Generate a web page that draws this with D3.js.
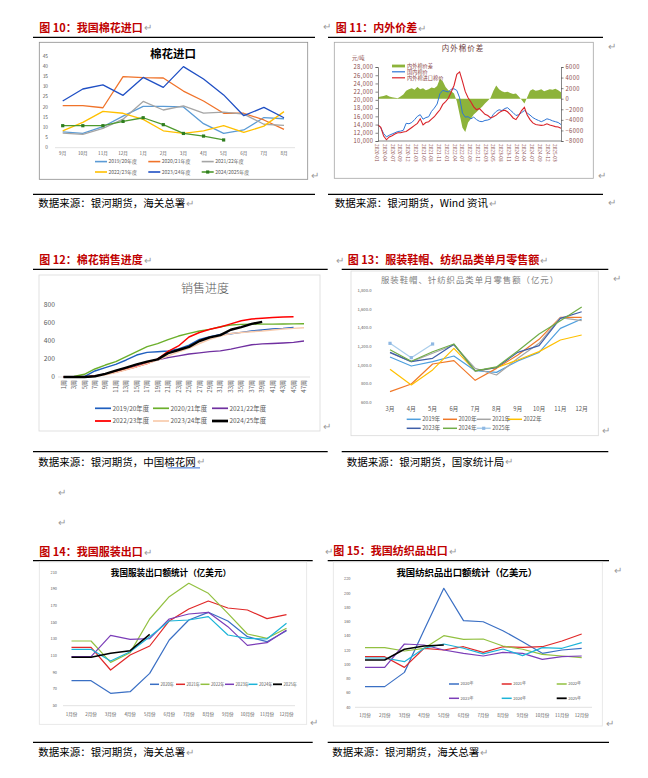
<!DOCTYPE html>
<html><head><meta charset="utf-8">
<script src="https://cdn.jsdelivr.net/npm/d3@7"></script>
<style>body{margin:0;background:#fff}svg{display:block}text{font-family:"Noto Sans CJK SC","Noto Sans",sans-serif}</style>
</head><body><svg id="c" width="648" height="778"></svg>
<script>
// ---------- DATA ----------
// Fig 10 cotton imports (万吨)
const months10 = ["9月","10月","11月","12月","1月","2月","3月","4月","5月","6月","7月","8月"];
const imp1920 = [7.8,7,10.3,15.5,20.3,20.3,20,11.8,7,8.7,14.8,14.2];
const imp2021 = [20.6,20.6,19.6,34.9,34.4,34.2,27.8,22.9,16.9,16.9,13.6,9];
const imp2122 = [7.2,6.5,9.5,14,22.7,18.5,20.5,17,17.5,16.5,11.5,11];
const imp2223 = [8.3,12.4,17.8,16.9,13.9,8.3,7,8.3,10.8,7.5,10.6,17.7];
const imp2324 = [22.9,28.8,30.8,25.7,34.5,29.6,39.8,33.7,25.9,15.7,19.8,14.7];
const imp2425 = [10.8,10.8,10.8,12.9,14.7,11.3,7,5.7,3.8,null,null,null];
const names10 = ["2019/20年度","2020/21年度","2021/22年度","2022/23年度","2023/24年度","2024/2025年度"];
const ticks10 = [0,5,10,15,20,25,30,35,40,45];

// Fig 11 domestic vs imported cotton price (monthly samples)
const dates11 = ["2020-01","2020-04","2020-07","2020-09","2020-12","2021-03","2021-05","2021-08","2021-11","2022-01","2022-04","2022-07","2022-09","2022-12","2023-03","2023-05","2023-08","2023-11","2024-01","2024-04","2024-07","2024-09","2024-12","2025-03"];
const domestic11 = [13900,13200,11800,11000,11400,11700,12000,12300,12400,12600,14300,14200,14500,15200,16000,16400,15300,15700,15900,17200,18000,19000,21500,22300,22100,21900,22600,22700,22300,20500,16800,15800,15900,15400,15800,15200,14800,14700,15000,15100,15400,16500,17200,17600,17400,17900,18100,17500,16900,16200,16400,16900,17400,16800,16300,15700,15300,15000,14700,15000,15400,15200,14900,14700,14500,14000];
const imported11 = [13900,13300,11200,10300,11000,11300,11700,12000,12000,12200,12300,12800,13300,13800,14300,15400,13900,14500,14700,15300,15900,16800,17600,18900,19600,20400,21900,23500,26200,26800,24500,22000,20500,19500,18300,17600,17900,17200,16500,16200,15600,15900,16300,16900,17300,17500,17100,16400,15600,15200,16200,17400,18200,16300,15200,14400,14000,13900,13800,13900,14200,13900,13700,13500,13400,13100];
const spread11 = [300,400,500,700,400,300,200,100,400,800,1500,1800,2000,1700,2200,1800,2000,1600,1800,2100,2000,2400,3800,3300,2200,1600,1400,1000,-500,-3000,-5500,-6300,-4500,-3800,-3000,-2500,-2000,-1500,-900,-400,200,1500,2500,1800,1400,1200,1300,1100,900,1000,400,-200,-900,300,1500,1800,1500,1600,1800,1400,1600,1800,1700,1900,1600,1200];
const leftTicks11 = [10000,12000,14000,16000,18000,20000,22000,24000,26000,28000];
const rightTicks11 = [-8000,-6000,-4000,-2000,0,2000,4000,6000];
const names11 = ["内外棉价差","国内棉价","内外棉进口棉价"];

// Fig 12 sales progress
const weeks12 = ["1周","3周","5周","7周","9周","11周","13周","15周","17周","19周","21周","23周","25周","27周","29周","31周","33周","35周","37周","39周","41周","43周","45周","47周"];
const sale1920 = [0,0,5,67,104,141,189,244,274,281,289,311,355,418,448,474,481,496,511,522,533,540,551,null];
const sale2021 = [0,5,30,89,133,170,226,281,337,370,415,455,485,511,529,559,577,585,588,588,588,589,590,592];
const sale2122 = [0,0,0,10,35,55,85,120,155,190,215,235,255,268,282,290,310,335,358,368,372,378,385,400];
const sale2223 = [0,0,0,10,30,55,85,115,150,200,285,345,445,495,530,555,590,625,645,652,660,668,670,null];
const sale2324 = [0,0,0,5,25,50,80,112,148,188,235,280,318,372,418,455,483,495,503,511,522,533,540,548];
const sale2425 = [0,0,0,8,35,70,105,140,170,196,265,300,335,400,440,465,525,555,590,612,null,null,null,null];
const names12 = ["2019/20年度","2020/21年度","2021/22年度","2022/23年度","2023/24年度","2024/25年度"];
const ticks12 = [0,200,400,600,800];

// Fig 13 retail sales (亿元)
const months13 = ["3月","4月","5月","6月","7月","8月","9月","10月","11月","12月"];
const ret2019 = [1087,990,1037,1098,940,922,1045,1137,1395,1496];
const ret2020 = [715,797,1012,1048,836,965,1109,1277,1513,1513];
const ret2021 = [1134,1037,1127,1216,965,894,1073,1234,1510,1478];
const ret2022 = [955,786,948,1180,937,973,1055,1145,1270,1324];
const ret2023 = [1137,1037,1073,1223,937,973,1137,1209,1503,1574];
const ret2024 = [1166,1041,1144,1227,937,980,1152,1334,1478,1624];
const ret2025 = [1234,1080,1227,null,null,null,null,null,null,null];
const names13 = ["2019年","2020年","2021年","2022年","2023年","2024年","2025年"];
const ticks13 = [600,800,1000,1200,1400,1600,1800];

// Fig 14 apparel exports (亿美元)
const months14 = ["1月份","2月份","3月份","4月份","5月份","6月份","7月份","8月份","9月份","10月份","11月份","12月份"];
const app2020 = [80,80,64.8,66.8,88.8,128.8,152.8,162,151.6,132.8,126.8,140];
const app2021 = [120,120,92.8,110.8,121.6,151.6,166,175.6,167.2,164.8,154.4,159.2];
const app2022 = [127.6,127.6,102,113.6,154,180.8,196.8,184.8,160.8,136,130.8,142.8];
const app2023 = [108.8,108.8,134.4,129.6,130.4,154,160,162,144.8,122.4,125.6,140.8];
const app2024 = [117.6,117.6,103.6,114.8,132.8,151.6,152.8,156.8,134.8,130.8,130,148.8];
const app2025 = [108,108,112.8,116,135.6,null,null,null,null,null,null,null];
const names14 = ["2020年","2021年","2022年","2023年","2024年","2025年"];
const ticks14 = [50,70,90,110,130,150,170,190,210];

// Fig 15 textile exports (亿美元)
const tex2020 = [69,69,89,148.5,207,161.6,160,147.5,132,115.7,120.4,122.8];
const tex2021 = [111,111,96,122.8,120.4,125,117,125,124,125,133,142.8];
const tex2022 = [123.7,123.7,119,122.8,140.5,135.4,135.8,126,121.4,114.3,112,109.7];
const tex2023 = [96,96,128.8,127.4,120.4,115.7,112,117,115.7,107.3,111,112];
const tex2024 = [109.2,109.2,104,122.8,128.8,122.8,115,121.8,112.5,123.7,122.8,130.7];
const tex2025 = [106.4,106.4,121.4,126,127.4,null,null,null,null,null,null,null];
const ticks15 = [40,60,80,100,120,140,160,180,200,220];

// ---------- DRAW ----------
const svg = d3.select("#c");
svg.append("rect").attr("width",648).attr("height",778).attr("fill","#fff");

function txt(x,y,s,o={}){
  const t=svg.append("text").attr("x",x).attr("y",y).text(s)
    .attr("font-size",o.size||10).attr("fill",o.color||"#000")
    .attr("text-anchor",o.anchor||"start");
  if(o.weight) t.attr("font-weight",o.weight);
  if(o.family) t.attr("font-family",o.family);
  if(o.ls) t.attr("letter-spacing",o.ls);
  return t;
}
function ret(x,y){ txt(x,y+3.5,"↵",{size:10,color:"#9a9a9a",family:"DejaVu Sans"}); }
function withRet(t){ const n=t.node(); const w=n.getComputedTextLength(); ret(+t.attr("x")+w+1, +t.attr("y")-3.8); }
function hline(x1,x2,y,c="#000",w=1){ svg.append("line").attr("x1",x1).attr("x2",x2).attr("y1",y).attr("y2",y).attr("stroke",c).attr("stroke-width",w); }
function box(x1,y1,x2,y2,c){ svg.append("rect").attr("x",x1).attr("y",y1).attr("width",x2-x1).attr("height",y2-y1).attr("fill","#fff").attr("stroke",c).attr("stroke-width",0.8); }

function panel(p){
  withRet(txt(p.tx,p.ty,p.title,{size:11,weight:"bold",color:"#C00000"}));
  hline(p.x1,p.x2,p.l1,"#000",1.2);
  hline(p.x1,p.x2,p.l2,"#000",1.2);
  box(p.b[0],p.b[1],p.b[2],p.b[3],p.bc);
  const s=txt(p.tx-1,p.sy,p.src,{size:10.5});
  withRet(s);
}

panel({tx:39.3,ty:31.5,title:"图 10：我国棉花进口",x1:33,x2:315,l1:37.3,l2:194.3,b:[39.3,42.3,307.7,179.3],bc:"#8c8c8c",sy:207.3,src:"数据来源：银河期货，海关总署"});
panel({tx:335.7,ty:32,title:"图 11：内外价差",x1:328,x2:603,l1:37.3,l2:194.3,b:[334.3,42.3,593.3,178.3],bc:"#a6a6a6",sy:207,src:"数据来源：银河期货，Wind 资讯"});
panel({tx:39.3,ty:264,title:"图 12：棉花销售进度",x1:33,x2:327.7,l1:269.3,l2:451.7,b:[39,275,320,431],bc:"#d9d9d9",sy:465.7,src:"数据来源：银河期货，中国棉花网"});
panel({tx:347.7,ty:264,title:"图 13：服装鞋帽、纺织品类单月零售额",x1:341.7,x2:608.3,l1:269.3,l2:451.7,b:[351,271,598.3,435.7],bc:"#d9d9d9",sy:465.7,src:"数据来源：银河期货，国家统计局"});
panel({tx:39.3,ty:556,title:"图 14：我国服装出口",x1:33,x2:312.7,l1:560.7,l2:742.3,b:[39.3,562,306.7,724.3],bc:"#e3e3e3",sy:756.3,src:"数据来源：银河期货，海关总署"});
panel({tx:333.3,ty:555,title:"图 15：我国纺织品出口",x1:327.7,x2:609,l1:560.7,l2:742.3,b:[333.3,562,602.3,726],bc:"#e3e3e3",sy:756.3,src:"数据来源：银河期货，海关总署"});
// link underline 棉花网
hline(167.7,200,467.9,"#1f5fd0",0.9);
// stray paragraph marks
[[323,26.7],[311,175.7],[608,46.7],[598,175.7],[608,202.7],[323,426.7],[336,260],[613,278],[602,430],[58,492],[58,522],[310,722.7],[614,570],[606,723],[325,551]].forEach(p=>ret(p[0],p[1]));

// generic category line chart
function catChart(c){
  const g=svg.append("g");
  const x=d3.scalePoint().domain(c.cats).range(c.xr);
  const y=d3.scaleLinear().domain(c.yd).range(c.yr);
  if(c.axisLine) g.append("line").attr("x1",c.axisLine[0]).attr("x2",c.axisLine[1]).attr("y1",y(c.yd[0])).attr("y2",y(c.yd[0])).attr("stroke","#d9d9d9").attr("stroke-width",0.8);
  c.ticks.forEach(v=>g.append("text").attr("x",c.yLabelX).attr("y",y(v)+c.yfs*0.35).attr("text-anchor","end").attr("font-size",c.yfs).attr("fill","#595959").text(c.yfmt?c.yfmt(v):v));
  c.cats.forEach(k=>{
    if(c.rotX){
      g.append("text").attr("transform",`translate(${x(k)+c.xfs*0.35},${c.xly}) rotate(-90)`).attr("text-anchor","end").attr("font-size",c.xfs).attr("fill","#595959").text(k);
    } else {
      g.append("text").attr("x",x(k)).attr("y",c.xly).attr("text-anchor","middle").attr("font-size",c.xfs).attr("fill","#595959").text(k);
    }
  });
  const line=d3.line().defined(d=>d[1]!=null).x(d=>x(d[0])).y(d=>y(d[1]));
  c.series.forEach(s=>{
    const pts=c.cats.map((k,i)=>[k,s.v[i]]);
    g.append("path").attr("d",line(pts)).attr("fill","none").attr("stroke",s.color).attr("stroke-width",s.w||1.2).attr("stroke-linejoin","round");
    if(s.marker) pts.filter(d=>d[1]!=null).forEach(d=>g.append("rect").attr("x",x(d[0])-1.6).attr("y",y(d[1])-1.6).attr("width",3.2).attr("height",3.2).attr("fill",s.marker));
  });
  // legend
  c.series.forEach((s,i)=>{
    const lx=c.leg.xs[i%c.leg.xs.length], ly=c.leg.ys[Math.floor(i/c.leg.xs.length)];
    g.append("line").attr("x1",lx).attr("x2",lx+c.leg.len).attr("y1",ly).attr("y2",ly).attr("stroke",s.color).attr("stroke-width",(s.w||1.2)+0.3);
    if(s.marker) g.append("rect").attr("x",lx+c.leg.len/2-1.6).attr("y",ly-1.6).attr("width",3.2).attr("height",3.2).attr("fill",s.marker);
    g.append("text").attr("x",lx+c.leg.len+1.5).attr("y",ly+c.leg.fs*0.36).attr("font-size",c.leg.fs).attr("fill","#595959").text(s.name);
  });
  return g;
}

// Fig 10
txt(173,58,"棉花进口",{size:11.5,weight:"bold",anchor:"middle"});
catChart({cats:months10,xr:[62.7,284],yd:[0,45],yr:[147.7,56],ticks:ticks10,yLabelX:48,yfs:4.8,xfs:4.6,xly:155.3,axisLine:[55,295],
  series:[{name:names10[0],color:"#5B9BD5",v:imp1920,w:1.3},{name:names10[1],color:"#F0732A",v:imp2021,w:1.3},{name:names10[2],color:"#A5A5A5",v:imp2122,w:1.3},
  {name:names10[3],color:"#FFC000",v:imp2223,w:1.3},{name:names10[4],color:"#1F4FC4",v:imp2324,w:1.3},{name:names10[5],color:"#4E9A2E",v:imp2425,w:1.3,marker:"#2E7D1E"}],
  leg:{xs:[95,148.3,201.7],ys:[161.6,172],len:12,fs:5}});

// Fig 11
(function(){
  const g=svg.append("g"), brown="#8B4A4A";
  const x=d3.scaleLinear().domain([0,domestic11.length-1]).range([378,561]);
  const yL=d3.scaleLinear().domain([10000,28000]).range([141,67]);
  const yR=d3.scaleLinear().domain([-8000,6000]).range([141,67]);
  g.append("text").attr("x",463).attr("y",51).attr("text-anchor","middle").attr("font-size",7.5).attr("letter-spacing",1).attr("fill","#6b3a3a").text("内外棉价差");
  g.append("text").attr("x",352).attr("y",59.6).attr("font-size",5.3).attr("fill",brown).text("元/吨");
  g.append("path").attr("d",d3.area().x((d,i)=>x(i)).y0(yR(0)).y1(d=>yR(d))(spread11)).attr("fill","#8DB33A");
  g.append("path").attr("d",d3.line().x((d,i)=>x(i)).y(d=>yL(d))(domestic11)).attr("fill","none").attr("stroke","#2E75D6").attr("stroke-width",1);
  g.append("path").attr("d",d3.line().x((d,i)=>x(i)).y(d=>yL(d))(imported11)).attr("fill","none").attr("stroke","#D9232A").attr("stroke-width",1.1);
  const ax=d3.axisLeft(yL).tickValues(leftTicks11).tickSize(2.5).tickFormat(d3.format(",")).tickPadding(2);
  const gl=g.append("g").attr("transform","translate(378,0)").call(ax);
  const ar=d3.axisRight(yR).tickValues(rightTicks11).tickSize(2.5).tickFormat(d=>d<0?"−"+Math.abs(d):d).tickPadding(2);
  const gr=g.append("g").attr("transform","translate(561,0)").call(ar);
  [gl,gr].forEach(a=>{a.selectAll("path,line").attr("stroke","#555").attr("stroke-width",0.7);a.selectAll("text").attr("font-size",5.8).attr("fill",brown).attr("letter-spacing",0.4).attr("font-family","Liberation Serif");});
  g.append("line").attr("x1",378).attr("x2",561).attr("y1",141).attr("y2",141).attr("stroke","#555").attr("stroke-width",0.7);
  const xp=d3.scalePoint().domain(dates11).range([376.7,555]);
  dates11.forEach(d=>g.append("text").attr("transform",`translate(${xp(d)-1.7},144) rotate(90)`).attr("font-size",4.8).attr("fill",brown).text(d));
  // legend
  g.append("rect").attr("x",392).attr("y",64.6).attr("width",13).attr("height",2.8).attr("fill","#8DB33A");
  g.append("line").attr("x1",392).attr("x2",405).attr("y1",71.8).attr("y2",71.8).attr("stroke","#2E75D6").attr("stroke-width",1.2);
  g.append("line").attr("x1",392).attr("x2",405).attr("y1",77.8).attr("y2",77.8).attr("stroke","#D9232A").attr("stroke-width",1.2);
  names11.forEach((n,i)=>g.append("text").attr("x",407).attr("y",[66,71.8,77.8][i]+1.9).attr("font-size",5.2).attr("fill",brown).text(n));
})();

// Fig 12
txt(181,292.5,"销售进度",{size:12,color:"#595959",weight:300});
catChart({cats:weeks12,xr:[63.5,304],yd:[0,800],yr:[377,305],ticks:ticks12,yLabelX:55,yfs:6.7,xfs:6,rotX:true,xly:380,axisLine:[58,310],
  series:[{name:names12[0],color:"#1F5FBF",v:sale1920,w:1.4},{name:names12[1],color:"#6BAF2A",v:sale2021,w:1.4},{name:names12[2],color:"#7030A0",v:sale2122,w:1.4},
  {name:names12[3],color:"#FF0000",v:sale2223,w:1.5},{name:names12[4],color:"#F8CBAD",v:sale2324,w:1.4},{name:names12[5],color:"#000000",v:sale2425,w:2.4}],
  leg:{xs:[95,153,212],ys:[408.3,421],len:16,fs:6.4}});

// Fig 13
txt(470,282.5,"服装鞋帽、针纺织品类单月零售额（亿元）",{size:8.4,color:"#7f7f7f",anchor:"middle",ls:1});
catChart({cats:months13,xr:[390,581.7],yd:[600,1800],yr:[402.3,290.7],ticks:ticks13,yLabelX:371.5,yfs:4.2,yfmt:d3.format(",.1f"),xfs:5.8,xly:411.3,
  series:[{name:names13[0],color:"#4E9FDE",v:ret2019},{name:names13[1],color:"#F07828",v:ret2020},{name:names13[2],color:"#A5A5A5",v:ret2021},
  {name:names13[3],color:"#FFC000",v:ret2022},{name:names13[4],color:"#3F5FA8",v:ret2023},{name:names13[5],color:"#70AD47",v:ret2024},{name:names13[6],color:"#A9CDEB",v:ret2025,marker:"#8FB8E3"}],
  leg:{xs:[406.7,443,476.7,508],ys:[419.3,428.3],len:14,fs:5.6}});

// Fig 14
txt(171,576,"我国服装出口额统计（亿美元）",{size:8.6,weight:"bold",anchor:"middle"});
catChart({cats:months14,xr:[71.5,286.5],yd:[50,210],yr:[705.7,572.3],ticks:ticks14,yLabelX:57,yfs:3.9,xfs:4.5,xly:715.6,axisLine:[63,295],
  series:[{name:names14[0],color:"#3A6FC4",v:app2020},{name:names14[1],color:"#E02828",v:app2021},{name:names14[2],color:"#92C040",v:app2022},
  {name:names14[3],color:"#7B3DB8",v:app2023},{name:names14[4],color:"#1CB4D8",v:app2024},{name:names14[5],color:"#000000",v:app2025,w:1.5}],
  leg:{xs:[150,176,200.5,225,248.5,273],ys:[684.3],len:9,fs:4.2}});

// Fig 15
txt(466.7,575.5,"我国纺织品出口额统计（亿美元）",{size:9.4,weight:"bold",anchor:"middle"});
catChart({cats:months14,xr:[365,581.7],yd:[40,220],yr:[707.3,579],ticks:ticks15,yLabelX:350.5,yfs:3.9,xfs:4.5,xly:717.3,axisLine:[355,592],
  series:[{name:names14[0],color:"#3A6FC4",v:tex2020},{name:names14[1],color:"#E02828",v:tex2021},{name:names14[2],color:"#92C040",v:tex2022},
  {name:names14[3],color:"#7B3DB8",v:tex2023},{name:names14[4],color:"#1CB4D8",v:tex2024},{name:names14[5],color:"#000000",v:tex2025,w:1.5}],
  leg:{xs:[449,501.7,556.7],ys:[684,698.3],len:10,fs:4}});
</script></body></html>
